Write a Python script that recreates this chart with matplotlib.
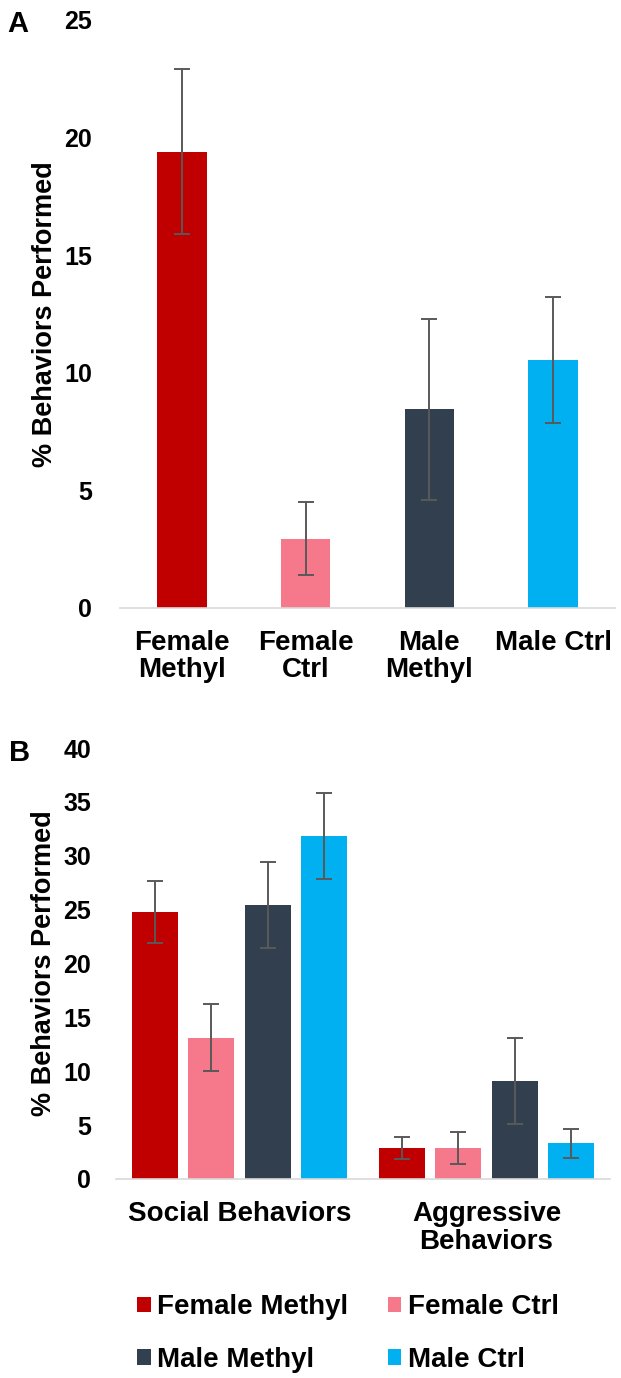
import matplotlib
matplotlib.use("Agg")
import matplotlib.pyplot as plt
from matplotlib.patches import Patch
import numpy as np

plt.rcParams['font.family'] = ['Liberation Sans', 'DejaVu Sans']
plt.rcParams['font.weight'] = 'bold'

# Panel A: overall % behaviors performed per group
groups_a = ["Female\nMethyl", "Female\nCtrl", "Male\nMethyl", "Male Ctrl"]
means_a = [19.4, 2.95, 8.45, 10.55]
errs_a = [3.5, 1.55, 3.85, 2.67]

# Panel B: social vs aggressive behaviors
categories_b = ["Social Behaviors", "Aggressive\nBehaviors"]
series_names = ["Female Methyl", "Female Ctrl", "Male Methyl", "Male Ctrl"]
means_b = {
    "Female Methyl": [24.8, 2.9],
    "Female Ctrl": [13.1, 2.9],
    "Male Methyl": [25.4, 9.1],
    "Male Ctrl": [31.8, 3.3],
}
errs_b = {
    "Female Methyl": [2.9, 1.0],
    "Female Ctrl": [3.1, 1.5],
    "Male Methyl": [4.0, 4.0],
    "Male Ctrl": [4.0, 1.35],
}

colors = ["#C00000", "#F6788B", "#323F4F", "#00B0F0"]
err_kw = dict(ecolor="#595959", elinewidth=1.4, capsize=5.5, capthick=1.4)

W, H = 621, 1378
fig = plt.figure(figsize=(W / 100, H / 100), dpi=100)

def style_axes(ax, ypad):
    for side in ["top", "right", "left"]:
        ax.spines[side].set_visible(False)
    ax.spines["bottom"].set_color("#D9D9D9")
    ax.spines["bottom"].set_linewidth(1.2)
    ax.tick_params(axis="both", length=0)
    ax.tick_params(axis="y", pad=ypad, labelsize=18)
    ax.tick_params(axis="x", pad=16, labelsize=20)

# ---- Panel A
ax1 = fig.add_axes([120 / W, 1 - 608 / H, 495 / W, 588 / H])
x = np.arange(len(groups_a))
ax1.bar(x, means_a, width=0.4, color=colors, yerr=errs_a, error_kw=err_kw)
ax1.set_xlim(-0.5, 3.5)
ax1.set_ylim(0, 25)
ax1.set_yticks([0, 5, 10, 15, 20, 25])
ax1.set_xticks(x)
ax1.set_xticklabels(groups_a, linespacing=1.05)
style_axes(ax1, 20)
ax1.set_ylabel("% Behaviors Performed", fontsize=19.5, fontweight="bold")
ax1.yaxis.set_label_coords(-0.125, 0.5)
fig.text(7 / W, 1 - 32 / H, "A", fontsize=21, fontweight="bold")

# ---- Panel B
ax2 = fig.add_axes([116 / W, 1 - 1179 / H, 494 / W, 431 / H])
xb = np.arange(len(categories_b))
bw = 0.187
step = 0.228
for i, name in enumerate(series_names):
    ax2.bar(xb + (i - 1.5) * step, means_b[name], width=bw, color=colors[i],
            yerr=errs_b[name], error_kw=err_kw, label=name)
ax2.set_xlim(-0.5, 1.5)
ax2.set_ylim(0, 40)
ax2.set_yticks(range(0, 41, 5))
ax2.set_xticks(xb)
ax2.set_xticklabels(categories_b, linespacing=1.1)
style_axes(ax2, 18)
ax2.set_ylabel("% Behaviors Performed", fontsize=19.5, fontweight="bold")
ax2.yaxis.set_label_coords(-0.12, 0.5)
fig.text(9 / W, 1 - 761 / H, "B", fontsize=21, fontweight="bold")

# legend is filled column by column, so order it to read row-wise
order = [0, 2, 1, 3]
handles = [Patch(facecolor=colors[i], edgecolor="none") for i in order]
labels = [series_names[i] for i in order]
fig.legend(handles, labels, loc="center", ncol=2,
           bbox_to_anchor=(348 / W, 1 - 1333.5 / H), frameon=False,
           fontsize=20, handlelength=0.5, handleheight=0.5,
           handletextpad=0.22, columnspacing=1.4, labelspacing=0.95,
           borderpad=0)

fig.savefig("out.png", dpi=100)
